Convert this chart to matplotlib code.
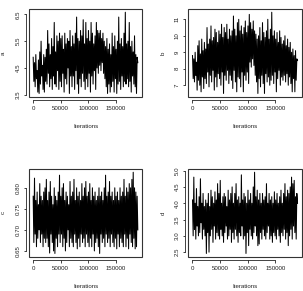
import numpy as np
import matplotlib
matplotlib.use("Agg")
import matplotlib.pyplot as plt
from matplotlib.patches import Rectangle

plt.rcParams['font.family'] = ['Liberation Sans', 'DejaVu Sans']

# trace values (zig-zag between band edges)
a_vals = [4.9, 4.0, 4.7, 3.8, 5.0, 4.1, 4.4, 3.6, 4.8, 3.55, 5.1, 3.9, 5.5, 4.2, 4.6, 3.7, 5.0, 3.6, 4.9, 4.0,
          5.2, 3.9, 5.9, 4.3, 5.4, 3.8, 5.0, 4.1, 5.6, 3.7, 5.3, 4.2, 6.2, 3.9, 5.1, 3.8, 5.7, 4.4, 5.5, 3.7,
          5.8, 4.0, 5.6, 3.8, 5.7, 4.3, 5.2, 3.6, 5.8, 4.1, 5.4, 3.9, 5.6, 4.5, 5.5, 3.55, 5.9, 4.2, 5.3, 3.8,
          5.7, 4.2, 5.4, 3.7, 5.8, 4.4, 6.4, 3.9, 5.6, 3.55, 5.5, 4.1, 5.9, 3.8, 5.7, 4.3, 6.3, 4.0, 5.4, 3.7,
          6.2, 4.1, 5.6, 3.8, 5.9, 4.3, 5.5, 3.6, 6.2, 4.2, 5.8, 3.9, 5.4, 4.4, 5.7, 3.7, 6.2, 4.5, 5.9, 4.3,
          5.8, 4.6, 5.9, 4.4, 5.6, 4.7, 5.8, 4.3, 5.5, 4.1, 5.3, 3.8, 5.6, 3.55, 5.2, 3.9, 5.4, 3.6, 5.0, 3.8,
          5.8, 4.0, 5.3, 3.6, 5.7, 4.1, 5.2, 3.55, 5.5, 3.9, 6.4, 4.0, 5.4, 3.7, 5.6, 4.2, 5.3, 3.8, 5.8, 4.0,
          6.58, 3.9, 5.4, 4.1, 5.5, 3.8, 6.2, 4.0, 5.3, 3.6, 5.5, 4.2, 5.1, 3.9, 5.7, 3.8, 5.0, 3.55, 4.9, 4.7]

b_vals = [8.8, 7.4, 8.6, 7.2, 9.0, 7.6, 8.4, 6.7, 9.4, 7.3, 9.7, 7.0, 8.9, 6.6, 9.8, 7.5, 9.1, 6.8, 9.6, 7.4,
          9.2, 7.1, 10.5, 7.8, 9.5, 6.9, 9.8, 7.6, 10.6, 7.2, 9.7, 7.9, 9.9, 6.7, 10.4, 7.5, 10.2, 6.9, 9.6, 7.7,
          10.3, 7.4, 10.1, 7.0, 10.7, 7.8, 9.9, 6.5, 10.5, 7.6, 10.2, 7.3, 10.7, 7.9, 9.8, 7.1, 10.4, 7.6, 10.0, 7.3,
          10.3, 6.8, 11.2, 7.9, 10.4, 7.2, 10.0, 6.6, 10.8, 7.5, 11.0, 7.4, 10.3, 6.9, 10.6, 7.8, 10.1, 6.6, 10.5, 7.6,
          10.9, 7.3, 10.2, 7.8, 10.6, 7.1, 11.3, 8.4, 10.8, 8.1, 10.4, 8.6, 10.9, 8.2, 10.3, 7.6, 10.1, 7.2, 9.8, 6.5,
          10.0, 7.4, 10.5, 6.9, 9.7, 7.6, 10.8, 7.1, 10.2, 6.5, 9.9, 7.7, 10.3, 7.2, 11.0, 7.5, 9.8, 7.0, 10.4, 7.3,
          11.43, 7.6, 10.0, 7.1, 10.3, 7.8, 9.8, 6.6, 10.2, 7.4, 9.6, 7.9, 10.3, 7.0, 9.9, 7.5, 9.5, 7.3, 9.7, 7.6,
          10.0, 7.2, 9.4, 7.7, 9.8, 7.0, 9.3, 7.5, 9.6, 7.1, 9.0, 6.6, 9.2, 7.4, 8.8, 6.6, 9.1, 7.3, 8.6, 8.5]

c_vals = [0.78, 0.67, 0.823, 0.69, 0.77, 0.66, 0.79, 0.68, 0.76, 0.70, 0.81, 0.67, 0.78, 0.69, 0.77, 0.66, 0.79, 0.68, 0.80, 0.67,
          0.82, 0.68, 0.77, 0.66, 0.79, 0.645, 0.815, 0.69, 0.78, 0.67, 0.76, 0.65, 0.80, 0.644, 0.78, 0.68, 0.77, 0.66, 0.79, 0.69,
          0.83, 0.67, 0.78, 0.69, 0.80, 0.66, 0.81, 0.68, 0.77, 0.65, 0.79, 0.67, 0.78, 0.70, 0.76, 0.66, 0.815, 0.68, 0.78, 0.67,
          0.79, 0.66, 0.82, 0.69, 0.77, 0.67, 0.80, 0.655, 0.78, 0.68, 0.79, 0.66, 0.77, 0.69, 0.81, 0.67, 0.78, 0.68, 0.80, 0.66,
          0.815, 0.69, 0.78, 0.67, 0.79, 0.66, 0.81, 0.68, 0.77, 0.66, 0.80, 0.69, 0.78, 0.65, 0.79, 0.67, 0.77, 0.68, 0.78, 0.66,
          0.80, 0.644, 0.78, 0.69, 0.79, 0.67, 0.77, 0.68, 0.80, 0.66, 0.83, 0.69, 0.78, 0.67, 0.79, 0.68, 0.815, 0.66, 0.78, 0.69,
          0.79, 0.67, 0.77, 0.66, 0.80, 0.68, 0.78, 0.655, 0.79, 0.69, 0.77, 0.66, 0.80, 0.68, 0.78, 0.67, 0.79, 0.66, 0.82, 0.69,
          0.78, 0.66, 0.80, 0.68, 0.79, 0.655, 0.81, 0.69, 0.80, 0.67, 0.82, 0.66, 0.837, 0.68, 0.80, 0.655, 0.79, 0.66, 0.78, 0.70]

d_vals = [4.1, 3.0, 4.8, 3.2, 4.0, 2.9, 4.45, 3.3, 3.9, 3.0, 4.2, 3.1, 4.75, 3.4, 4.0, 2.9, 4.3, 3.2, 3.9, 3.0,
          4.1, 2.46, 4.0, 3.1, 4.3, 2.5, 3.9, 3.0, 4.4, 3.2, 4.2, 2.8, 4.0, 3.3, 4.35, 2.9, 4.1, 3.1, 4.6, 3.0,
          4.3, 2.9, 4.7, 3.2, 4.0, 3.0, 4.2, 2.8, 4.3, 3.1, 4.2, 3.3, 3.9, 2.9, 4.4, 3.0, 4.1, 3.2, 4.3, 2.8,
          4.5, 3.1, 4.0, 2.9, 4.3, 3.2, 4.6, 3.0, 4.1, 2.8, 4.2, 3.1, 4.0, 3.0, 4.87, 3.3, 4.1, 2.9, 4.3, 3.0,
          4.2, 2.46, 4.0, 3.1, 4.4, 2.7, 4.1, 3.2, 4.3, 3.0, 4.0, 2.9, 4.5, 3.1, 4.95, 3.3, 4.2, 3.0, 4.4, 2.7,
          4.1, 2.75, 4.3, 3.1, 4.0, 2.9, 4.3, 3.2, 4.1, 3.0, 4.2, 2.9, 4.6, 3.1, 4.0, 3.3, 4.3, 2.9, 4.1, 3.0,
          4.2, 2.8, 4.0, 3.1, 4.35, 3.0, 4.1, 2.9, 4.3, 3.2, 4.0, 3.0, 4.2, 2.8, 4.4, 3.1, 4.0, 3.0, 4.3, 3.2,
          4.6, 2.9, 4.2, 3.1, 4.4, 2.7, 4.3, 3.0, 4.5, 3.2, 4.8, 2.9, 4.6, 3.3, 4.7, 3.1, 4.2, 2.9, 4.3, 4.0]

n_iter = 190000
x_ticks = [0, 50000, 100000, 150000]
x_tick_labels = ['0', '50000', '100000', '150000']

panels = [
    ('a', a_vals, [3.5, 4.5, 5.5, 6.5], ['3.5', '4.5', '5.5', '6.5']),
    ('b', b_vals, [7, 8, 9, 10, 11], ['7', '8', '9', '10', '11']),
    ('c', c_vals, [0.65, 0.70, 0.75, 0.80], ['0.65', '0.70', '0.75', '0.80']),
    ('d', d_vals, [2.5, 3.0, 3.5, 4.0, 4.5, 5.0], ['2.5', '3.0', '3.5', '4.0', '4.5', '5.0']),
]

W, H = 303, 291
# box positions in pixels: left, top, right, bottom
boxes = [(29, 9, 142, 96.7), (188.3, 9, 301.7, 96.7),
         (29, 169, 142, 256.7), (188.3, 169, 301.7, 256.7)]

fig = plt.figure(figsize=(W / 100, H / 100), dpi=100)
fig.patch.set_facecolor('white')

fs = 4.4
for (name, vals, yt, ytl), (l, t, r, b) in zip(panels, boxes):
    ax = fig.add_axes([l / W, 1 - b / H, (r - l) / W, (b - t) / H])
    vals = np.array(vals)
    x = np.linspace(1, n_iter, len(vals))
    ax.plot(x, vals, color='black', lw=0.75)

    # R style 4% padding
    ax.set_xlim(1 - 0.04 * n_iter, n_iter * 1.04)
    lo, hi = vals.min(), vals.max()
    pad = (hi - lo) * 0.04
    ax.set_ylim(lo - pad, hi + pad)

    ax.set_xticks(x_ticks)
    ax.set_xticklabels(x_tick_labels)
    ax.set_yticks(yt)
    ax.set_yticklabels(ytl)

    # detached axis lines like R, box drawn separately
    for s in ['top', 'right']:
        ax.spines[s].set_visible(False)
    ax.spines['bottom'].set_position(('outward', 2.4))
    ax.spines['left'].set_position(('outward', 2.2))
    ax.spines['bottom'].set_bounds(x_ticks[0], x_ticks[-1])
    ax.spines['left'].set_bounds(yt[0], yt[-1])
    for s in ['bottom', 'left']:
        ax.spines[s].set_linewidth(0.6)
        ax.spines[s].set_color('#222222')
    ax.add_patch(Rectangle((0, 0), 1, 1, transform=ax.transAxes, fill=False,
                           lw=0.8, edgecolor='#333333', clip_on=False, zorder=5))

    ax.tick_params(length=1.8, width=0.6, labelsize=fs, pad=2.5, colors='#222222')
    ax.tick_params(axis='y', pad=2.0, labelrotation=90)
    for lab in ax.get_yticklabels():
        lab.set_va('center')

    ax.set_xlabel('Iterations', fontsize=fs, color='#222222')
    ax.xaxis.set_label_coords(0.5, -30 / (b - t))
    ax.xaxis.label.set_va('center')
    ax.set_ylabel(name, fontsize=fs, color='#222222')
    ax.yaxis.set_label_coords(-25.5 / (r - l), 0.5)
    ax.yaxis.label.set_va('center')

fig.savefig('out.png', dpi=100, facecolor='white')
